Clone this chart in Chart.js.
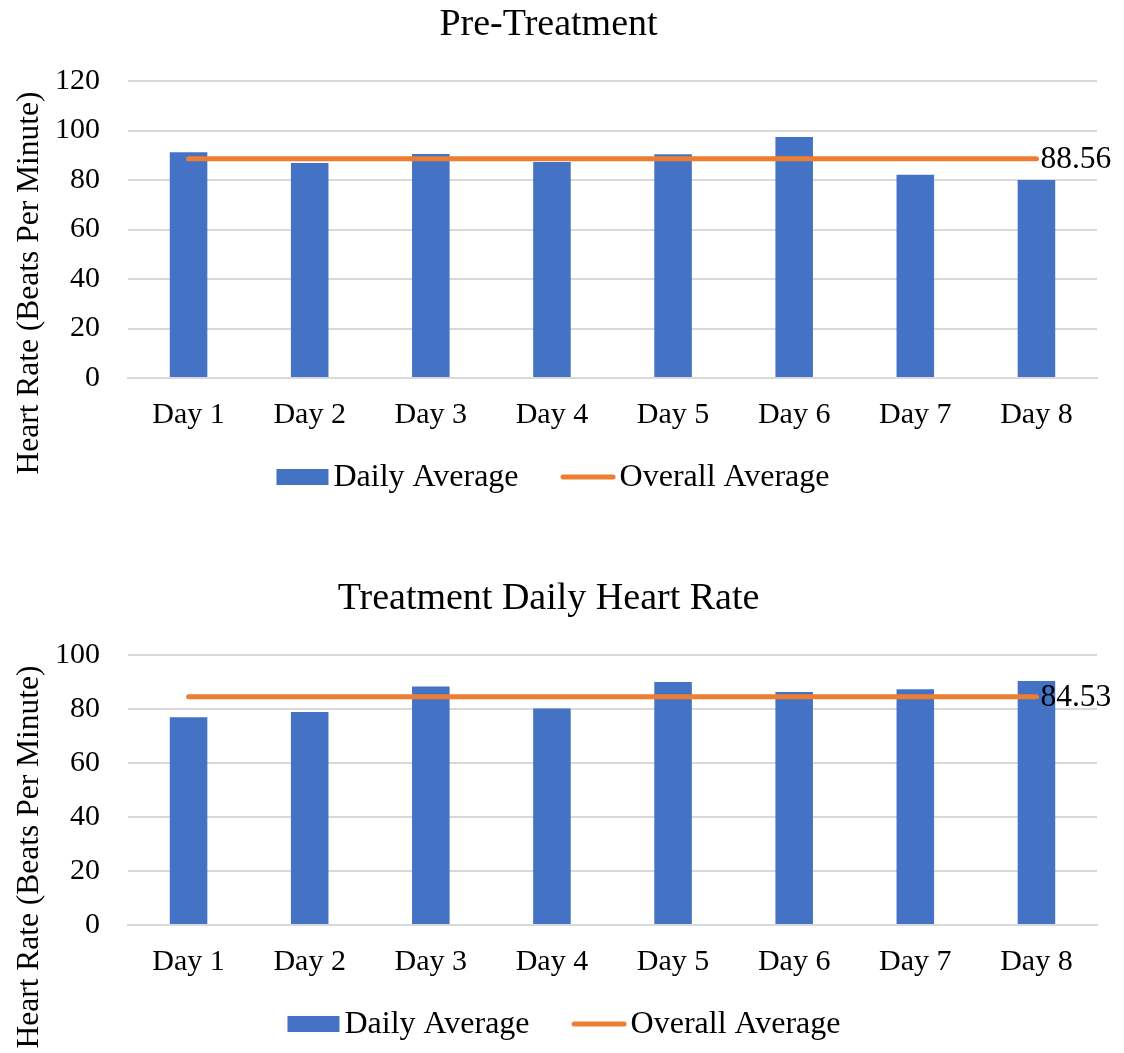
<!DOCTYPE html>
<html>
<head>
<meta charset="utf-8">
<script src="https://cdn.jsdelivr.net/npm/chart.js@4.4.1/dist/chart.umd.min.js"></script>
<style>
  body { margin: 0; background: #fff; }
  .box { position: absolute; left: 0; width: 1124px; }
  #b1 { top: 0; height: 506px; }
  #b2 { top: 574px; height: 479px; }
</style>
</head>
<body>
<div class="box" id="b1"><canvas id="pre"></canvas></div>
<div class="box" id="b2"><canvas id="treat"></canvas></div>
<script>
const days = ['Day 1', 'Day 2', 'Day 3', 'Day 4', 'Day 5', 'Day 6', 'Day 7', 'Day 8'];

// pre-treatment daily averages (bpm)
const preDaily = [91.2, 86.9, 90.5, 87.3, 90.4, 97.4, 82.1, 80.0];
const preOverall = 88.56;

// treatment daily averages (bpm)
const treatDaily = [76.9, 78.9, 88.3, 80.2, 90.0, 86.3, 87.3, 90.4];
const treatOverall = 84.53;

const FONT = "'Liberation Serif', 'Times New Roman', serif";
const BLUE = '#4472C4';
const ORANGE = '#ED7D31';
const GRID = '#d9d9d9';
const yTitle = 'Heart Rate (Beats Per Minute)';

// y title, end label on avg line and an excel-like legend (box sits right next to text)
const extras = {
  id: 'extras',
  afterDatasetsDraw(chart, args, opts) {
    const ctx = chart.ctx;
    const area = chart.chartArea;
    const ds = chart.data.datasets;

    ctx.save();
    ctx.fillStyle = '#000';
    ctx.font = '31.5px ' + FONT;
    ctx.textAlign = 'center';
    ctx.textBaseline = 'middle';
    ctx.translate(30, 283);
    ctx.rotate(-Math.PI / 2);
    ctx.fillText(yTitle, 0, 0);
    ctx.restore();

    // value label at the end of the overall average line
    const meta = chart.getDatasetMeta(1);
    const n = meta.data.length - 1;
    ctx.save();
    ctx.fillStyle = '#000';
    ctx.font = '31.5px ' + FONT;
    ctx.textAlign = 'left';
    ctx.textBaseline = 'middle';
    ctx.fillText(ds[1].data[n].toFixed(2), meta.data[n].x + 4, meta.data[n].y + 1);
    ctx.restore();

    // legend
    ctx.save();
    ctx.font = '32px ' + FONT;
    ctx.textBaseline = 'middle';
    ctx.textAlign = 'left';
    const w0 = ctx.measureText(ds[0].label).width;
    const w1 = ctx.measureText(ds[1].label).width;
    const total = 52 + 5 + w0 + 42 + 55 + 4 + w1;
    let x = opts.center - total / 2;
    const y = area.bottom + 99;
    ctx.fillStyle = ds[0].backgroundColor;
    ctx.fillRect(x, y - 8, 52, 16);
    x += 57;
    ctx.fillStyle = '#000';
    ctx.fillText(ds[0].label, x, y + 1);
    x += w0 + 42;
    ctx.strokeStyle = ds[1].borderColor;
    ctx.lineWidth = 5;
    ctx.lineCap = 'round';
    ctx.beginPath();
    ctx.moveTo(x + 2.5, y);
    ctx.lineTo(x + 52.5, y);
    ctx.stroke();
    x += 59;
    ctx.fillText(ds[1].label, x, y + 1);
    ctx.restore();
  }
};

function makeChart(id, title, daily, overall, yMax, legendCenter) {
  const avgLine = days.map(() => overall);
  return new Chart(document.getElementById(id), {
    type: 'bar',
    data: {
      labels: days,
      datasets: [
        {
          label: 'Daily Average',
          data: daily,
          backgroundColor: BLUE,
          barPercentage: 0.31,
          categoryPercentage: 1,
          order: 1
        },
        {
          type: 'line',
          label: 'Overall Average',
          data: avgLine,
          borderColor: ORANGE,
          backgroundColor: ORANGE,
          borderWidth: 5,
          borderCapStyle: 'round',
          pointRadius: 0,
          order: 0
        }
      ]
    },
    options: {
      responsive: true,
      maintainAspectRatio: false,
      animation: false,
      layout: { padding: { left: 0, right: 27, top: 0, bottom: 73 } },
      scales: {
        x: {
          grid: { display: false, drawTicks: false },
          border: { color: GRID, width: 2 },
          ticks: { color: '#000', font: { family: FONT, size: 30 }, padding: 19 },
          afterFit: s => { s.height = 55; }
        },
        y: {
          min: 0,
          max: yMax,
          ticks: { stepSize: 20, color: '#000', font: { family: FONT, size: 30 }, padding: 28 },
          grid: { color: GRID, lineWidth: 2, drawTicks: false },
          border: { display: false },
          afterFit: s => { s.width = 128; }
        }
      },
      plugins: {
        title: {
          display: true,
          text: title,
          color: '#000',
          font: { family: FONT, size: 38, weight: 'normal' },
          padding: { top: 2, bottom: 33.4 }
        },
        legend: { display: false },
        tooltip: { enabled: false },
        extras: { center: legendCenter }
      }
    },
    plugins: [extras]
  });
}

makeChart('pre', 'Pre-Treatment', preDaily, preOverall, 120, 553);
makeChart('treat', 'Treatment Daily Heart Rate', treatDaily, treatOverall, 100, 564);
</script>
</body>
</html>
